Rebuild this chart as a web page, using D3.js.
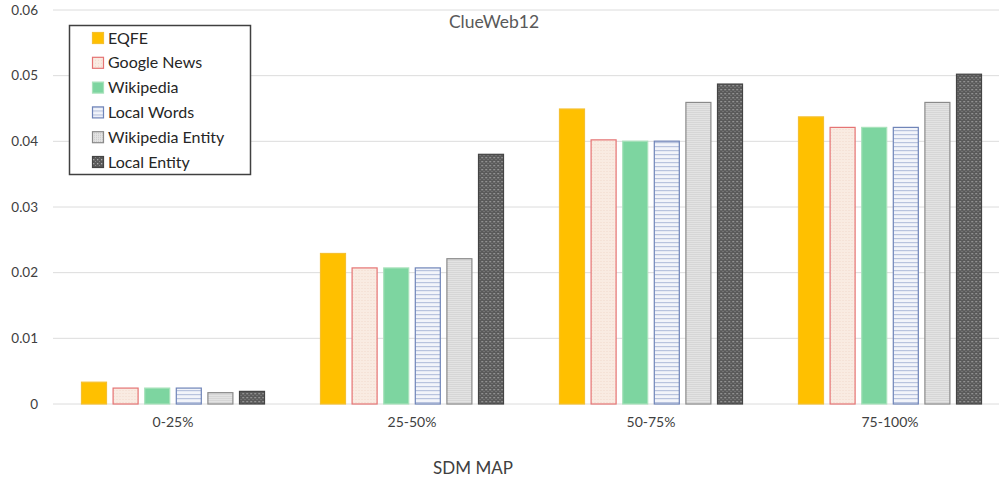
<!DOCTYPE html>
<html><head><meta charset="utf-8">
<script src="https://cdn.jsdelivr.net/npm/d3@7"></script>
<style>body{margin:0;background:#fff;}svg{display:block;}</style>
</head><body>
<svg id="chart" width="999" height="483"></svg>
<script>
const categories = ["0-25%", "25-50%", "50-75%", "75-100%"];
const seriesNames = ["EQFE", "Google News", "Wikipedia", "Local Words", "Wikipedia Entity", "Local Entity"];
const eqfe = [0.0034, 0.0230, 0.0450, 0.0438];
const googleNews = [0.0025, 0.0208, 0.0403, 0.0422];
const wikipedia = [0.0025, 0.0208, 0.0401, 0.0422];
const localWords = [0.0025, 0.0208, 0.0401, 0.0422];
const wikipediaEntity = [0.0018, 0.0222, 0.0460, 0.0460];
const localEntity = [0.0020, 0.0381, 0.0488, 0.0503];
const yTicks = [0, 0.01, 0.02, 0.03, 0.04, 0.05, 0.06];
const series = [eqfe, googleNews, wikipedia, localWords, wikipediaEntity, localEntity];

const svg = d3.select("#chart");
const defs = svg.append("defs");
// patterns
const pGN = defs.append("pattern").attr("id","pGN").attr("width",3).attr("height",3).attr("patternUnits","userSpaceOnUse");
pGN.append("rect").attr("width",3).attr("height",3).attr("fill","#f9ebe2");
pGN.append("rect").attr("width",1).attr("height",1).attr("fill","#f1d9cc");
const pLW = defs.append("pattern").attr("id","pLW").attr("width",4).attr("height",4).attr("patternUnits","userSpaceOnUse");
pLW.append("rect").attr("width",4).attr("height",4).attr("fill","#f2f4fa");
pLW.append("rect").attr("y",2).attr("width",4).attr("height",1.2).attr("fill","#b8c3de");
const pWE = defs.append("pattern").attr("id","pWE").attr("width",2).attr("height",2).attr("patternUnits","userSpaceOnUse");
pWE.append("rect").attr("width",2).attr("height",2).attr("fill","#e3e3e3");
pWE.append("rect").attr("width",1).attr("height",1).attr("fill","#c9c9c9");
const pLE = defs.append("pattern").attr("id","pLE").attr("width",4).attr("height",4).attr("patternUnits","userSpaceOnUse");
pLE.append("rect").attr("width",4).attr("height",4).attr("fill","#5a5a5a");
pLE.append("rect").attr("x",1).attr("y",1).attr("width",1.3).attr("height",1.3).attr("fill","#b0b0b0");
pLE.append("rect").attr("x",3).attr("y",3).attr("width",1).attr("height",1).attr("fill","#8a8a8a");

const fills = ["#ffc000", "url(#pGN)", "#7dd5a0", "url(#pLW)", "url(#pWE)", "url(#pLE)"];
const strokes = ["#f5c030", "#e57373", "#a8e2bb", "#6f84b8", "#8a8a8a", "#444"];

const x0 = d3.scaleBand().domain(categories).range([53.5, 1009.5]).paddingInner(0).paddingOuter(0);
const x1 = d3.scaleBand().domain(seriesNames).range([0, x0.bandwidth()]).paddingInner(0.177).paddingOuter(0.87);
const y = d3.scaleLinear().domain([0, 0.06]).range([404, 10]);

// gridlines
svg.append("g").selectAll("line").data(yTicks).join("line")
  .attr("x1", 53).attr("x2", 999)
  .attr("y1", d => y(d)).attr("y2", d => y(d))
  .attr("stroke", "#dcdcdc").attr("stroke-width", 1);

// y axis labels
const yAxis = d3.axisLeft(y).tickValues(yTicks).tickSize(0).tickPadding(0).tickFormat(d => d === 0 ? "0" : d3.format(".2f")(d));
const gy = svg.append("g").attr("transform", "translate(38,0)").call(yAxis);
gy.select(".domain").remove();
gy.selectAll("text").attr("font-family", "Lato, 'Open Sans', sans-serif").attr("font-size", 13.5).attr("fill", "#404040");

// bars
const groups = svg.append("g").selectAll("g").data(categories).join("g")
  .attr("transform", d => `translate(${x0(d)},0)`);
groups.selectAll("rect").data((c, ci) => seriesNames.map((s, si) => ({s, si, v: series[si][ci]})))
  .join("rect")
  .attr("x", d => x1(d.s) + 0.5)
  .attr("y", d => y(d.v) + 0.5)
  .attr("width", x1.bandwidth() - 1)
  .attr("height", d => Math.max(0, y(0) - y(d.v) - 0.5))
  .attr("fill", d => fills[d.si])
  .attr("stroke", d => strokes[d.si])
  .attr("stroke-width", 1.2);

// x axis labels
const xAxis = d3.axisBottom(x0).tickSize(0).tickPadding(0);
const gx = svg.append("g").attr("transform", "translate(0,417)").call(xAxis);
gx.select(".domain").remove();
gx.selectAll("text").attr("font-family", "Lato, 'Open Sans', sans-serif").attr("font-size", 14).attr("fill", "#404040");

// title
svg.append("text").attr("x", 494).attr("y", 28).attr("text-anchor", "middle")
  .attr("font-family", "Lato, 'Open Sans', sans-serif").attr("font-size", 17.5).attr("fill", "#595959").text("ClueWeb12");

// x axis title
svg.append("text").attr("x", 473).attr("y", 474).attr("text-anchor", "middle")
  .attr("font-family", "Lato, 'Open Sans', sans-serif").attr("font-size", 17).attr("fill", "#404040").text("SDM MAP");

// legend
const lg = svg.append("g");
lg.append("rect").attr("x", 69.5).attr("y", 25.5).attr("width", 181).attr("height", 149)
  .attr("fill", "#fff").attr("stroke", "#404040").attr("stroke-width", 1.5);
const items = lg.selectAll("g.item").data(seriesNames).join("g").attr("class", "item")
  .attr("transform", (d, i) => `translate(92,${38 + i * 24.8})`);
items.append("rect").attr("x", 0.5).attr("y", -5.5).attr("width", 11).attr("height", 11)
  .attr("fill", (d, i) => fills[i]).attr("stroke", (d, i) => strokes[i]).attr("stroke-width", 1.2);
items.append("text").attr("x", 16).attr("y", 5.5).attr("font-family", "Lato, 'Open Sans', sans-serif")
  .attr("font-size", 16).attr("fill", "#262626").text(d => d);
</script>
</body></html>
